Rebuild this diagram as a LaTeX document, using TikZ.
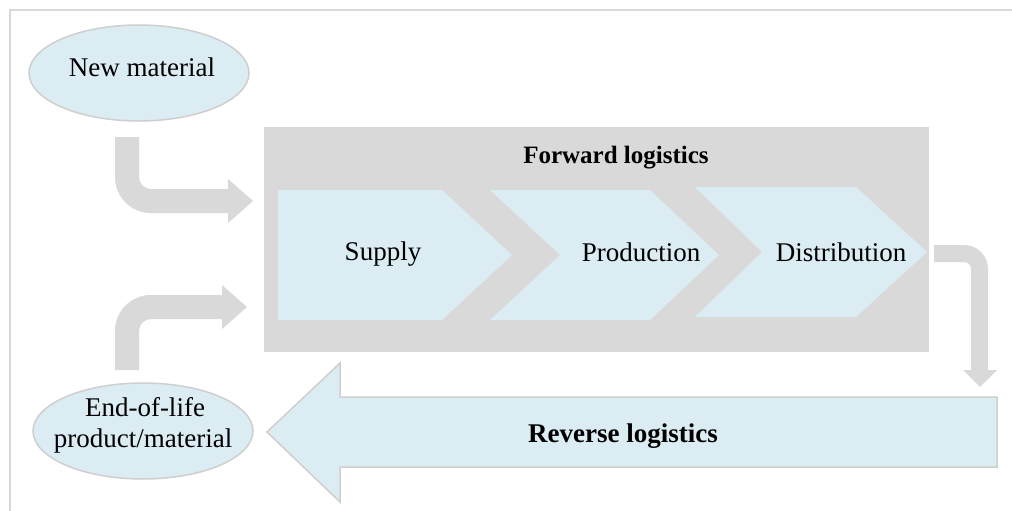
\documentclass[tikz,border=0pt]{standalone}
\usepackage{fontspec}
\setmainfont{Liberation Serif}
\usetikzlibrary{shapes.geometric}
\definecolor{flowgray}{HTML}{D9D9D9}
\definecolor{paleblue}{HTML}{DBECF3}
\definecolor{edgegray}{HTML}{CFCFCF}
\tikzset{
  lbl/.style={font=\fontsize{27}{31}\selectfont, inner sep=0pt, anchor=base},
  boldlbl/.style={lbl, font=\fontsize{26}{31}\selectfont\bfseries},
  blob/.style={ellipse, fill=paleblue, draw=edgegray, line width=1.5pt,
               minimum width=220pt, minimum height=96pt, inner sep=0pt},
  stage/.style={fill=paleblue},
  bentarrow/.style={fill=flowgray},
}
\begin{document}
\begin{tikzpicture}[x=1pt, y=-1pt]
  \useasboundingbox (0,0) rectangle (1012,511);
  \fill[white] (0,0) rectangle (1012,511);

  % outer frame (top and left edges)
  \draw[flowgray, line width=2pt] (9.5,511) -- (9.5,10.5) -- (1012,10.5);

  % forward logistics panel
  \node[fill=flowgray, minimum width=665pt, minimum height=225pt,
        inner sep=0pt, anchor=north west] (fwd) at (264,127) {};
  \node[boldlbl, font=\fontsize{25}{30}\selectfont\bfseries] (fwdlbl) at (616,163) {Forward logistics};

  % stages
  \fill[stage] (278,190) -- (442,190) -- (512,255) -- (442,320) -- (278,320) -- cycle;
  \fill[stage] (490,190) -- (650,190) -- (719,255) -- (650,320) -- (490,320) -- (560,255) -- cycle;
  \fill[stage] (695,187) -- (856,187) -- (927,252) -- (856,317) -- (695,317) -- (762,252) -- cycle;
  \node[lbl] (supply) at (383,260) {Supply};
  \node[lbl] (production) at (641,261) {Production};
  \node[lbl] (distribution) at (841,261) {Distribution};

  % inputs
  \node[blob] (newmat) at (139,73) {};
  \node[lbl] (newmatlbl) at (142,77) {New material};
  \node[blob] (eol) at (143,431) {};
  \node[lbl] (eollbl1) at (145,416) {End-of-life};
  \node[lbl] (eollbl2) at (143,447) {product/material};

  % new material into the forward flow
  \fill[bentarrow] (115,137) -- (115,177) .. controls (115,197) and (131,213) .. (151,213)
    -- (228,213) -- (228,223) -- (253,201) -- (228,179) -- (228,189) -- (151,189)
    .. controls (144.4,189) and (139,183.6) .. (139,177) -- (139,137) -- cycle;

  % recovered material back into the forward flow
  \fill[bentarrow] (115,370) -- (115,331) .. controls (115,311) and (131,295) .. (151,295)
    -- (222,295) -- (222,285) -- (247,307) -- (222,329) -- (222,319) -- (151,319)
    .. controls (144.4,319) and (139,324.4) .. (139,331) -- (139,370) -- cycle;

  % distribution down to reverse logistics
  \fill[bentarrow] (934,245) -- (964,245) .. controls (977.3,245) and (988,255.7) .. (988,269)
    -- (988,370) -- (997,370) -- (980,387) -- (963,370) -- (971,370) -- (971,269)
    .. controls (971,265.1) and (967.9,262) .. (964,262) -- (934,262) -- cycle;

  % reverse logistics arrow
  \filldraw[fill=paleblue, draw=edgegray, line width=1.5pt]
    (997,397) -- (340,397) -- (340,363) -- (267,432) -- (340,502) -- (340,467) -- (997,467) -- cycle;
  \node[boldlbl, font=\fontsize{27}{31}\selectfont\bfseries] (revlbl) at (623,442) {Reverse logistics};
\end{tikzpicture}
\end{document}
